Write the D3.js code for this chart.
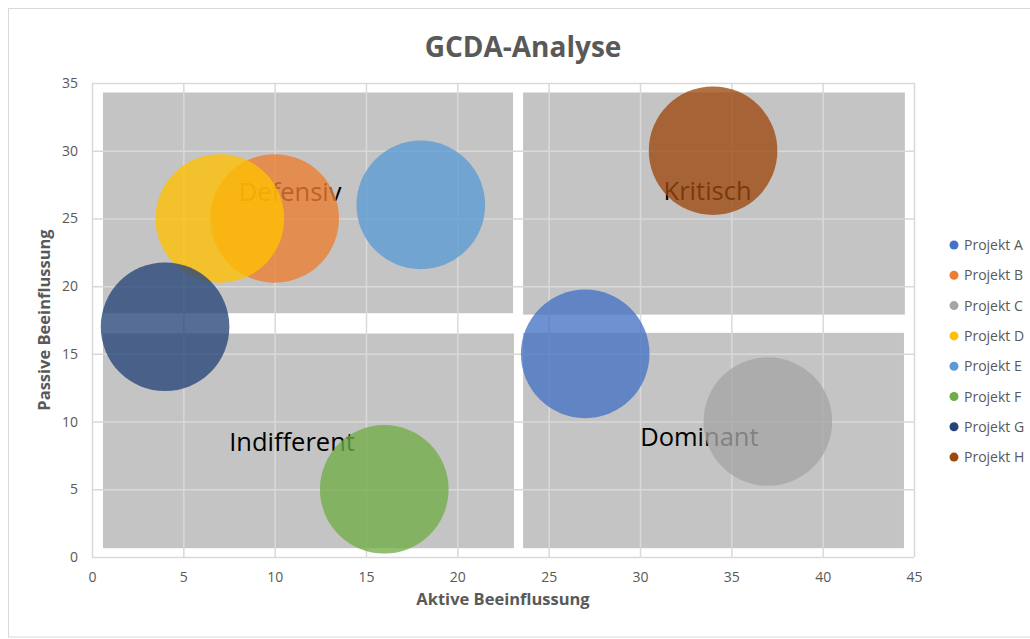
<!DOCTYPE html>
<html>
<head>
<meta charset="utf-8">
<script src="https://cdn.jsdelivr.net/npm/d3@7"></script>
<style>
  html, body { margin: 0; padding: 0; background: #ffffff; }
  svg text { font-family: "Open Sans", "Noto Sans", sans-serif; }
</style>
</head>
<body>
<svg id="chart" width="1030" height="639"></svg>
<script>
// Projects: position on the active/passive influence grid, bubble size
const projects = ["Projekt A", "Projekt B", "Projekt C", "Projekt D", "Projekt E", "Projekt F", "Projekt G", "Projekt H"];
const aktiv    = [27, 10, 37, 7, 18, 16, 4, 34];
const passiv   = [15, 25, 10, 25, 26, 5, 17, 30];
const groesse  = [10, 10, 10, 10, 10, 10, 10, 10];
const colors   = ["#4472C4", "#ED7D31", "#A5A5A5", "#FFC000", "#5B9BD5", "#70AD47", "#264478", "#9E480E"];

// Quadrant fields (data units) and their names
const quadNames = ["Defensiv", "Kritisch", "Indifferent", "Dominant"];
const quadX0 = [0.6, 23.6, 0.6, 23.6];
const quadX1 = [23.05, 44.5, 23.1, 44.45];
const quadY0 = [18.0, 17.9, 0.65, 0.65];
const quadY1 = [34.3, 34.3, 16.5, 16.55];
const quadLabelX = [10.85, 33.7, 10.95, 33.25];
const quadLabelY = [26.3, 26.35, 7.85, 8.2];

const xTicks = [0, 5, 10, 15, 20, 25, 30, 35, 40, 45];
const yTicks = [0, 5, 10, 15, 20, 25, 30, 35];

const svg = d3.select("#chart");
const plot = { left: 92, right: 914, top: 83, bottom: 557 };

const x = d3.scaleLinear().domain([0, 45]).range([plot.left, plot.right]);
const y = d3.scaleLinear().domain([0, 35]).range([plot.bottom, plot.top]);
const r = d3.scaleSqrt().domain([0, d3.max(groesse)]).range([0, 64.3]);

const textGrey = "#595959";
const gridGrey = "#d9d9d9";

// chart frame
svg.append("rect")
  .attr("x", 8.5).attr("y", 8.5)
  .attr("width", 1040).attr("height", 628.5)
  .attr("fill", "#ffffff").attr("stroke", gridGrey).attr("stroke-width", 1);

// quadrant fields
svg.append("g").selectAll("rect")
  .data(quadNames)
  .join("rect")
  .attr("x", (d, i) => x(quadX0[i]))
  .attr("y", (d, i) => y(quadY1[i]))
  .attr("width", (d, i) => x(quadX1[i]) - x(quadX0[i]))
  .attr("height", (d, i) => y(quadY0[i]) - y(quadY1[i]))
  .attr("fill", "#c4c4c4");

// gridlines
const grid = svg.append("g");
grid.append("g")
  .attr("transform", `translate(0,${plot.bottom})`)
  .call(d3.axisBottom(x).tickValues(xTicks).tickSize(-(plot.bottom - plot.top)).tickFormat(""))
  .call(g => g.select(".domain").remove())
  .call(g => g.selectAll("line").attr("stroke", gridGrey).attr("stroke-width", 1.5));
grid.append("g")
  .attr("transform", `translate(${plot.left},0)`)
  .call(d3.axisLeft(y).tickValues(yTicks).tickSize(-(plot.right - plot.left)).tickFormat(""))
  .call(g => g.select(".domain").remove())
  .call(g => g.selectAll("line").attr("stroke", gridGrey).attr("stroke-width", 1.5));

// tick labels
const xAxis = svg.append("g")
  .attr("transform", `translate(0,${plot.bottom})`)
  .call(d3.axisBottom(x).tickValues(xTicks).tickSize(0).tickPadding(15));
xAxis.select(".domain").remove();
xAxis.selectAll("text").attr("fill", textGrey).style("font-size", "14px");

const yAxis = svg.append("g")
  .attr("transform", `translate(${plot.left},0)`)
  .call(d3.axisLeft(y).tickValues(yTicks).tickSize(0).tickPadding(14));
yAxis.select(".domain").remove();
yAxis.selectAll("text").attr("fill", textGrey).style("font-size", "14px");

// quadrant names (below the bubbles)
svg.append("g").selectAll("text")
  .data(quadNames)
  .join("text")
  .attr("x", (d, i) => x(quadLabelX[i]))
  .attr("y", (d, i) => y(quadLabelY[i]))
  .attr("text-anchor", "middle")
  .attr("fill", "#000000")
  .style("font-size", "25.5px")
  .text(d => d);

// bubbles
svg.append("g").selectAll("circle")
  .data(projects)
  .join("circle")
  .attr("cx", (d, i) => x(aktiv[i]))
  .attr("cy", (d, i) => y(passiv[i]))
  .attr("r", (d, i) => r(groesse[i]))
  .attr("fill", (d, i) => colors[i])
  .attr("fill-opacity", 0.78);

// title
svg.append("text")
  .attr("x", 523).attr("y", 57)
  .attr("text-anchor", "middle")
  .attr("fill", textGrey)
  .style("font-size", "28px").style("font-weight", "700")
  .text("GCDA-Analyse");

// axis titles
svg.append("text")
  .attr("x", (plot.left + plot.right) / 2).attr("y", 605)
  .attr("text-anchor", "middle")
  .attr("fill", textGrey)
  .style("font-size", "16.5px").style("font-weight", "700")
  .text("Aktive Beeinflussung");

svg.append("text")
  .attr("transform", `translate(50,${(plot.top + plot.bottom) / 2}) rotate(-90)`)
  .attr("text-anchor", "middle")
  .attr("fill", textGrey)
  .style("font-size", "16.5px").style("font-weight", "700")
  .text("Passive Beeinflussung");

// legend
const legend = svg.append("g").selectAll("g")
  .data(projects)
  .join("g")
  .attr("transform", (d, i) => `translate(954,${245 + i * 30.3})`);
legend.append("circle")
  .attr("r", 4.5)
  .attr("fill", (d, i) => colors[i]);
legend.append("text")
  .attr("x", 10).attr("y", 5)
  .attr("fill", textGrey)
  .style("font-size", "14px")
  .text(d => d);
</script>
</body>
</html>
